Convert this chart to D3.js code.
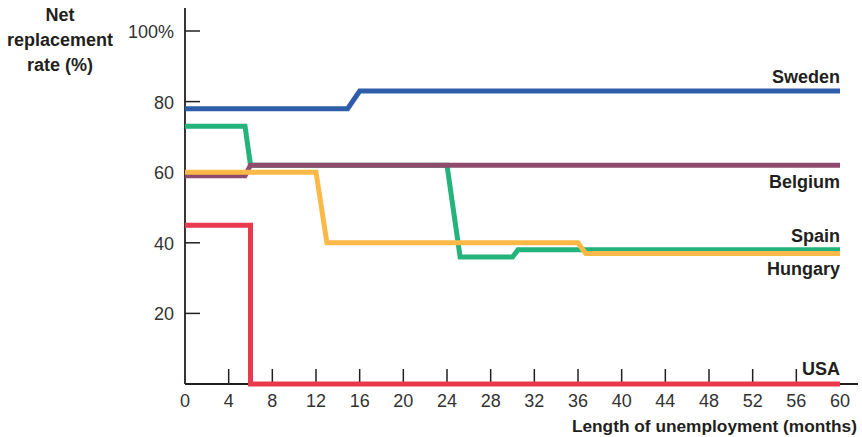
<!DOCTYPE html>
<html>
<head>
<meta charset="utf-8">
<script src="https://cdn.jsdelivr.net/npm/d3@7"></script>
<style>
  html, body { margin: 0; padding: 0; background: #fff; }
  svg { display: block; }
  .tick-label { font-family: "Liberation Sans", Arial, sans-serif; font-size: 18px; fill: #333; }
  .bold { font-family: "Liberation Sans", Arial, sans-serif; font-weight: bold; font-size: 18px; fill: #231f20; }
</style>
</head>
<body>
<svg id="chart" width="862" height="437"></svg>
<script>
// Net replacement rate (%) by length of unemployment (months)
const countries = ["Spain", "Belgium", "Hungary", "Sweden", "USA"];
const colors = ["#25b37c", "#8e4b6c", "#fdb947", "#2e5ea9", "#e8394f"];

// [month, rate] breakpoints for each country
const spain   = [[0, 73], [5.5, 73], [6, 62], [24, 62], [25.2, 36], [30, 36], [30.5, 38], [60, 38]];
const belgium = [[0, 59], [5.5, 59], [6, 62], [60, 62]];
const hungary = [[0, 60], [12, 60], [13, 40], [36, 40], [36.7, 37], [60, 37]];
const sweden  = [[0, 78], [14.9, 78], [16, 83], [60, 83]];
const usa     = [[0, 45], [6, 45], [6, 0], [60, 0]];
const seriesData = [spain, belgium, hungary, sweden, usa];

const xTicks = [0, 4, 8, 12, 16, 20, 24, 28, 32, 36, 40, 44, 48, 52, 56, 60];
const yTicks = [20, 40, 60, 80, 100];
const yTickLabels = ["20", "40", "60", "80", "100%"];

const svg = d3.select("#chart");
const x = d3.scaleLinear().domain([0, 60]).range([185, 840]);
const y = d3.scaleLinear().domain([0, 100]).range([384, 31]);

// axis lines
svg.append("line").attr("x1", x(0)).attr("x2", x(0)).attr("y1", 8).attr("y2", y(0))
  .attr("stroke", "#231f20").attr("stroke-width", 1.8);
svg.append("line").attr("x1", x(0)).attr("x2", 858).attr("y1", y(0)).attr("y2", y(0))
  .attr("stroke", "#231f20").attr("stroke-width", 1.8);

// y ticks point inward
svg.selectAll(".yt").data(yTicks).enter().append("line")
  .attr("x1", x(0)).attr("x2", x(0) + 15)
  .attr("y1", d => y(d)).attr("y2", d => y(d))
  .attr("stroke", "#231f20").attr("stroke-width", 1.5);
svg.selectAll(".ytl").data(yTicks).enter().append("text")
  .attr("class", "tick-label")
  .attr("x", 174).attr("y", d => y(d) + 7)
  .attr("text-anchor", "end")
  .text((d, i) => yTickLabels[i]);

// x ticks point inward
svg.selectAll(".xt").data(xTicks.filter(d => d > 0 && d < 60)).enter().append("line")
  .attr("x1", d => x(d)).attr("x2", d => x(d))
  .attr("y1", y(0)).attr("y2", y(0) - 15)
  .attr("stroke", "#231f20").attr("stroke-width", 1.5);
svg.selectAll(".xtl").data(xTicks).enter().append("text")
  .attr("class", "tick-label")
  .attr("x", d => x(d)).attr("y", 407)
  .attr("text-anchor", "middle")
  .text(d => d);

// series lines
const line = d3.line().x(d => x(d[0])).y(d => y(d[1]));
seriesData.forEach((s, i) => {
  svg.append("path").datum(s)
    .attr("d", line)
    .attr("fill", "none")
    .attr("stroke", colors[i])
    .attr("stroke-width", 5)
    .attr("stroke-linejoin", "miter");
});

// series labels, right aligned at the end of the lines
const labelY = [242, 188, 275, 83, 375];
countries.forEach((c, i) => {
  svg.append("text").attr("class", "bold")
    .attr("x", x(60)).attr("y", labelY[i])
    .attr("text-anchor", "end")
    .text(c);
});

// axis titles
const yTitle = ["Net", "replacement", "rate (%)"];
svg.selectAll(".ytitle").data(yTitle).enter().append("text")
  .attr("class", "bold")
  .attr("x", 60).attr("y", (d, i) => 21 + i * 25)
  .attr("text-anchor", "middle")
  .text(d => d);
svg.append("text").attr("class", "bold")
  .attr("x", 857).attr("y", 432)
  .attr("text-anchor", "end")
  .style("font-size", "17.3px")
  .text("Length of unemployment (months)");
</script>
</body>
</html>
